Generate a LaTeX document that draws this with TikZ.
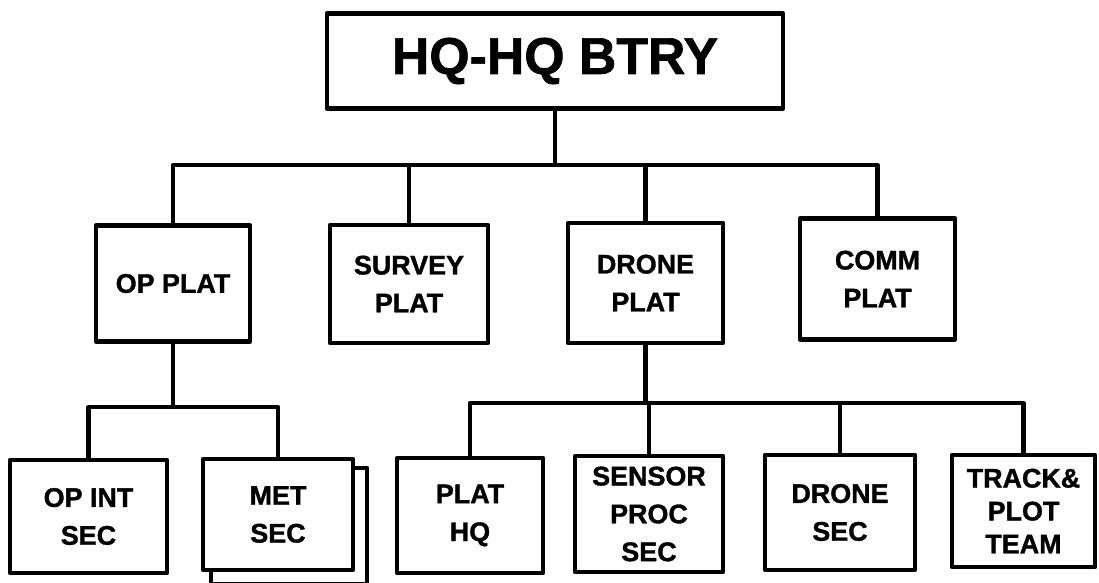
\documentclass[tikz,border=0pt]{standalone}
\usepackage{fontspec}
\setmainfont{Liberation Sans}[BoldFeatures={FakeBold=1.3}]
\usetikzlibrary{calc}
\begin{document}
\begin{tikzpicture}[x=1bp,y=-1bp,
  box/.style={draw,line width=4.5bp,line join=round,rectangle,inner sep=0pt,align=center,
    font=\fontsize{27}{38}\selectfont\bfseries},
  link/.style={line width=4.2bp,line join=round}]
\useasboundingbox (0,0) rectangle (1099,583);
% top
\node[box,minimum width=456bp,minimum height=95bp,font=\fontsize{52}{60}\selectfont\bfseries] (hq) at (555,61) {HQ-HQ BTRY};
% level 2
\node[box,minimum width=154bp,minimum height=116bp] (op) at (173,283.5) {OP PLAT};
\node[box,minimum width=158bp,minimum height=118bp] (survey) at (409,284) {SURVEY\\PLAT};
\node[box,minimum width=155bp,minimum height=120bp] (drone) at (645.5,283) {DRONE\\PLAT};
\node[box,minimum width=155bp,minimum height=121bp] (comm) at (877.5,279) {COMM\\PLAT};
% level 3
\node[box,minimum width=157bp,minimum height=113bp] (opint) at (88.5,516.5) {OP INT\\SEC};
\node[box,minimum width=150bp,minimum height=111bp] (met) at (278,514.5) {MET\\SEC};
\node[box,minimum width=146bp,minimum height=115bp] (plathq) at (470,515.5) {PLAT\\HQ};
\node[box,minimum width=148bp,minimum height=116bp,font=\fontsize{27}{38}\selectfont\bfseries] (sensor) at (649,514) {SENSOR\\PROC\\SEC};
\node[box,minimum width=150bp,minimum height=115bp] (dronesec) at (840,512.5) {DRONE\\SEC};
\node[box,minimum width=143bp,minimum height=112bp,font=\fontsize{27}{33}\selectfont\bfseries] (track) at (1023.5,511) {TRACK\&\\PLOT\\TEAM};
% MET shadow
\draw[link] ($(met.south west)+(10,0)$) -- ++(0,12) -| ($(met.north east)+(12,11)$) -- ($(met.north east)+(0,11)$);
% buses
\coordinate (b1) at (0,165);
\coordinate (b2) at (0,407);
\coordinate (b3) at (0,403);
\draw[link] (hq.south) -- (hq.south |- b1);
\draw[link] (op.north) |- (b1 -| comm.north) -- (comm.north);
\draw[link] (survey.north) -- (survey.north |- b1);
\draw[link] (drone.north) -- (drone.north |- b1);
\draw[link] (op.south) -- (op.south |- b2);
\draw[link] (opint.north) |- (b2 -| met.north) -- (met.north);
\draw[link] (drone.south) -- (drone.south |- b3);
\draw[link] (plathq.north) |- (b3 -| track.north) -- (track.north);
\draw[link] (sensor.north) -- (sensor.north |- b3);
\draw[link] (dronesec.north) -- (dronesec.north |- b3);
\end{tikzpicture}
\end{document}
